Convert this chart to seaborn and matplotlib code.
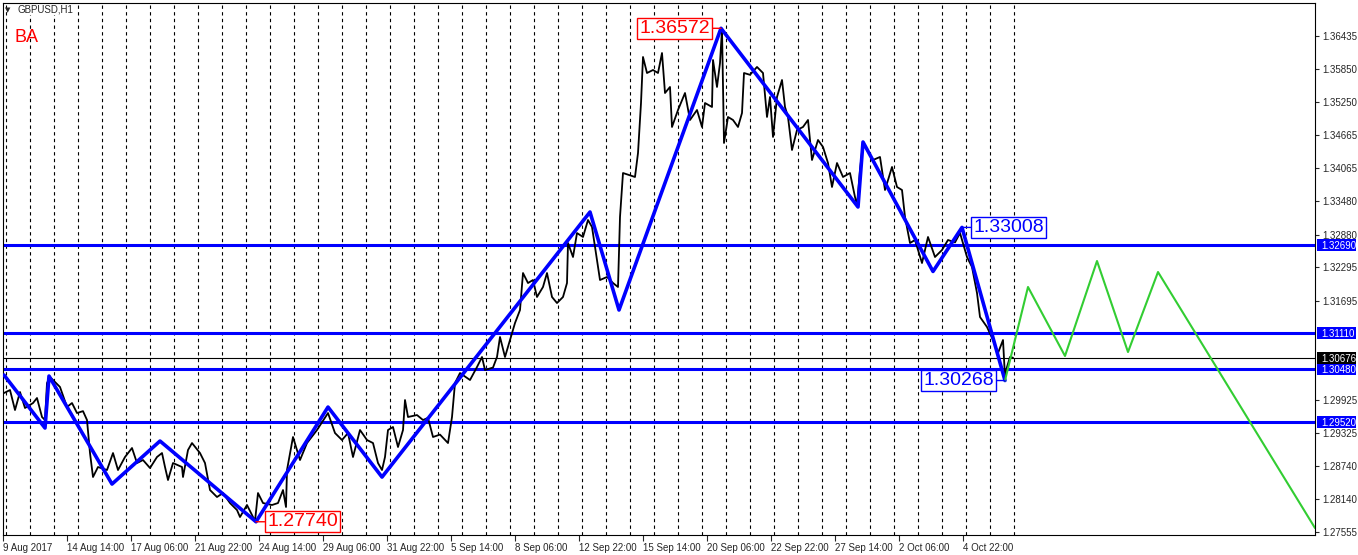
import numpy as np
import pandas as pd
import seaborn as sns
import matplotlib
matplotlib.use('Agg')
import matplotlib.pyplot as plt
from matplotlib.patches import Rectangle
from matplotlib.transforms import blended_transform_factory

# GBPUSD H1, hour index of each bar (1 bar per hour, weekends skipped) and close
bars = [4, 10, 15, 20, 25, 33, 37, 42, 45, 47, 50, 60, 67, 72, 77, 83, 87, 90, 93, 98,
        107, 113, 118, 125, 132, 137, 143, 150, 157, 162, 165, 168, 173, 182, 183, 188, 192, 200, 205, 210,
        217, 223, 230, 237, 240, 247, 253, 255, 258, 263, 272, 278, 283, 286, 287, 293, 297, 300, 307, 317,
        328, 335, 342, 348, 353, 360, 367, 373, 378, 382, 385, 388, 393, 398, 403, 405, 408, 417, 423, 428,
        433, 440, 448, 452, 455, 460, 470, 477, 482, 485, 493, 497, 500, 505, 510, 515, 520, 523, 528, 533,
        537, 543, 547, 552, 557, 563, 567, 568, 573, 577, 583, 588, 592, 595, 600, 607, 613, 618, 620, 623,
        630, 635, 638, 641, 643, 647, 653, 658, 662, 665, 670, 672, 678, 685, 690, 697, 702, 705, 712, 713,
        717, 720, 722, 724, 728, 733, 738, 742, 744, 750, 757, 763, 767, 770, 773, 777, 782, 785, 788, 792,
        797, 803, 808, 812, 818, 823, 828, 832, 837, 843, 850, 855, 857, 860, 863, 873, 880, 885, 892, 897,
        902, 905, 910, 915, 922, 928, 935, 942, 948, 955, 960, 967, 972, 977, 980, 987, 993, 998, 1003, 1005,
        1007, 1010, 1013]
closes = [1.30044, 1.30098, 1.29740, 1.30062, 1.29776, 1.29865, 1.29955, 1.29615, 1.29561, 1.30223,
          1.30331, 1.30152, 1.29794, 1.29865, 1.29686, 1.29720, 1.29561, 1.28970, 1.28541, 1.28720,
          1.28666, 1.28970, 1.28666, 1.28899, 1.29060, 1.28791, 1.28845, 1.28702, 1.28899, 1.28970,
          1.28720, 1.28487, 1.28791, 1.28720, 1.28541, 1.29024, 1.29149, 1.28970, 1.28791, 1.28308,
          1.28183, 1.28254, 1.28075, 1.27950, 1.27825, 1.28040, 1.27825, 1.27753, 1.28254, 1.28075,
          1.28040, 1.28075, 1.28308, 1.28004, 1.28666, 1.29257, 1.29024, 1.28845, 1.29149, 1.29382,
          1.29686, 1.29328, 1.29203, 1.29328, 1.28899, 1.29382, 1.29203, 1.29149, 1.28791, 1.28666,
          1.28899, 1.29382, 1.29436, 1.29078, 1.29382, 1.29919, 1.29615, 1.29650, 1.29561, 1.29600,
          1.29257, 1.29300, 1.29149, 1.29615, 1.30223, 1.30402, 1.30277, 1.30510, 1.30689, 1.30456,
          1.30500, 1.30689, 1.31047, 1.30689, 1.30993, 1.31297, 1.31530, 1.32192, 1.32013, 1.32067,
          1.31763, 1.31942, 1.32192, 1.31763, 1.31655, 1.31763, 1.32013, 1.32729, 1.32479, 1.32908,
          1.32837, 1.33141, 1.33016, 1.32658, 1.32067, 1.32121, 1.32013, 1.31942, 1.33195, 1.33982,
          1.33940, 1.33911, 1.34340, 1.35235, 1.36059, 1.35772, 1.35826, 1.35772, 1.36130, 1.35414,
          1.35522, 1.34806, 1.35110, 1.35414, 1.34931, 1.35110, 1.34806, 1.35235, 1.35164, 1.36005,
          1.35522, 1.35951, 1.36560, 1.34519, 1.34985, 1.34931, 1.34806, 1.35056, 1.35772, 1.35740,
          1.35880, 1.35772, 1.34985, 1.35343, 1.34627, 1.35343, 1.35647, 1.35164, 1.34985, 1.34394,
          1.34752, 1.34806, 1.34931, 1.34215, 1.34573, 1.34448, 1.34161, 1.33732, 1.34161, 1.33911,
          1.33982, 1.33553, 1.33410, 1.34036, 1.34519, 1.34215, 1.34269, 1.33678, 1.34090, 1.33732,
          1.33678, 1.33195, 1.32729, 1.32783, 1.32371, 1.32837, 1.32479, 1.32604, 1.32783, 1.32740,
          1.32908, 1.32479, 1.32300, 1.31834, 1.31405, 1.31226, 1.30993, 1.30760, 1.30993, 1.30330,
          1.30510, 1.30689, 1.30676]

# zigzag swing points
zz_bars = [4, 45, 49, 112, 160, 256, 328, 382, 590, 619, 721, 858, 863, 933, 962, 1005]
zz_prices = [1.30366, 1.29418, 1.30348, 1.28415, 1.29185, 1.27740, 1.29793, 1.28540,
             1.33284, 1.31530, 1.36572, 1.33374, 1.34537, 1.32220, 1.33008, 1.30268]

# projected path (green)
proj_bars = [1005, 1028, 1065, 1097, 1128, 1158, 1315]
proj_prices = [1.30268, 1.31942, 1.30707, 1.32407, 1.30778, 1.32210, 1.27628]

levels = [1.32690, 1.31110, 1.30480, 1.29520]
bid = 1.30676

swing_labels = ['1.36572', '1.27740', '1.33008', '1.30268']
swing_bars = [721, 256, 962, 1005]
swing_prices = [1.36572, 1.27740, 1.33008, 1.30268]
swing_colors = ['#ff0000', '#ff0000', '#0000ff', '#0000ff']
swing_side = [-1, 1, 1, -1]

price_ticks = [1.36435, 1.35850, 1.35250, 1.34665, 1.34065, 1.33480, 1.32880, 1.32295,
               1.31695, 1.29925, 1.29325, 1.28740, 1.28140, 1.27555]
time_labels = ['9 Aug 2017', '14 Aug 14:00', '17 Aug 06:00', '21 Aug 22:00', '24 Aug 14:00',
               '29 Aug 06:00', '31 Aug 22:00', '5 Sep 14:00', '8 Sep 06:00', '12 Sep 22:00',
               '15 Sep 14:00', '20 Sep 06:00', '22 Sep 22:00', '27 Sep 14:00', '2 Oct 06:00',
               '4 Oct 22:00']

sns.set_style('white')
plt.rcParams['font.family'] = ['Liberation Sans', 'DejaVu Sans']

W, H = 1358, 555
fig = plt.figure(figsize=(W / 100, H / 100), dpi=100)
ax = fig.add_axes([3 / W, (H - 535) / H, 1312 / W, 532 / H])
ax.set_xlim(3, 1315)
ax.set_ylim(1.27503, 1.37025)

# day separators
for k in range(43):
    ax.axvline(5.5 + 24 * k, color='black', lw=0.8, ls=(0, (3, 3)), zorder=0)

for lv in levels:
    ax.axhline(lv, color='#0000ff', lw=2.2, zorder=2)
ax.axhline(bid, color='black', lw=0.8, zorder=2)

df = pd.DataFrame({'bar': bars, 'close': closes})
sns.lineplot(data=df, x='bar', y='close', ax=ax, color='black', lw=1.3,
             sort=False, estimator=None, zorder=3)
sns.lineplot(x=zz_bars, y=zz_prices, ax=ax, color='#0000ff', lw=2.6,
             sort=False, estimator=None, zorder=4)
sns.lineplot(x=proj_bars, y=proj_prices, ax=ax, color='#32cd32', lw=1.5,
             sort=False, estimator=None, zorder=4)

for txt, b, p, c, s in zip(swing_labels, swing_bars, swing_prices, swing_colors, swing_side):
    ax.annotate(txt, xy=(b, p), xytext=(s * 8, 0), textcoords='offset points',
                ha='left' if s > 0 else 'right', va='center', fontsize=14, color=c,
                bbox=dict(boxstyle='square,pad=0.1', fc='white', ec=c, lw=1),
                arrowprops=dict(arrowstyle='-', color=c, lw=1, shrinkA=0, shrinkB=0),
                zorder=6, annotation_clip=False)

ax.set_xticks([3.3 + 64 * k for k in range(len(time_labels))])
ax.set_xticklabels(time_labels, ha='left', fontsize=7)
ax.yaxis.tick_right()
ax.set_yticks(price_ticks)
ax.set_yticklabels([f'{v:.5f}' for v in price_ticks], fontsize=7)
ax.tick_params(axis='x', direction='out', length=4, width=0.8, pad=1.5, bottom=True)
ax.tick_params(axis='y', direction='out', length=3, width=0.8, pad=2, right=True)
ax.set_xlabel('')
ax.set_ylabel('')
for sp in ax.spines.values():
    sp.set_color('black')
    sp.set_linewidth(0.8)

# price boxes on the right scale
trans = blended_transform_factory(ax.transAxes, ax.transData)
px_x = 1 / 1312
px_y = (1.37025 - 1.27503) / 532
for lv, fc in zip(levels + [bid], ['#0000ff'] * len(levels) + ['black']):
    ax.add_patch(Rectangle((1 + 2 * px_x, lv - 6 * px_y), 39 * px_x, 12 * px_y,
                           transform=trans, fc=fc, ec='none', clip_on=False, zorder=7))
    ax.text(1 + 6 * px_x, lv, f'{lv:.5f}', transform=trans, ha='left', va='center_baseline',
            fontsize=7, color='white', clip_on=False, zorder=8)

fig.text(8 / W, 1 - 10 / H, '\u25bc', fontsize=5, ha='center', va='center', family='DejaVu Sans')
fig.text(17 / W, 1 - 10 / H, 'GBPUSD,H1', fontsize=7, ha='left', va='center',
         bbox=dict(boxstyle='square,pad=0.05', fc='white', ec='none'))
fig.text(14 / W, 1 - 37 / H, 'BA', fontsize=13, color='#ff0000', ha='left', va='center')

fig.savefig('out.png', dpi=100)
